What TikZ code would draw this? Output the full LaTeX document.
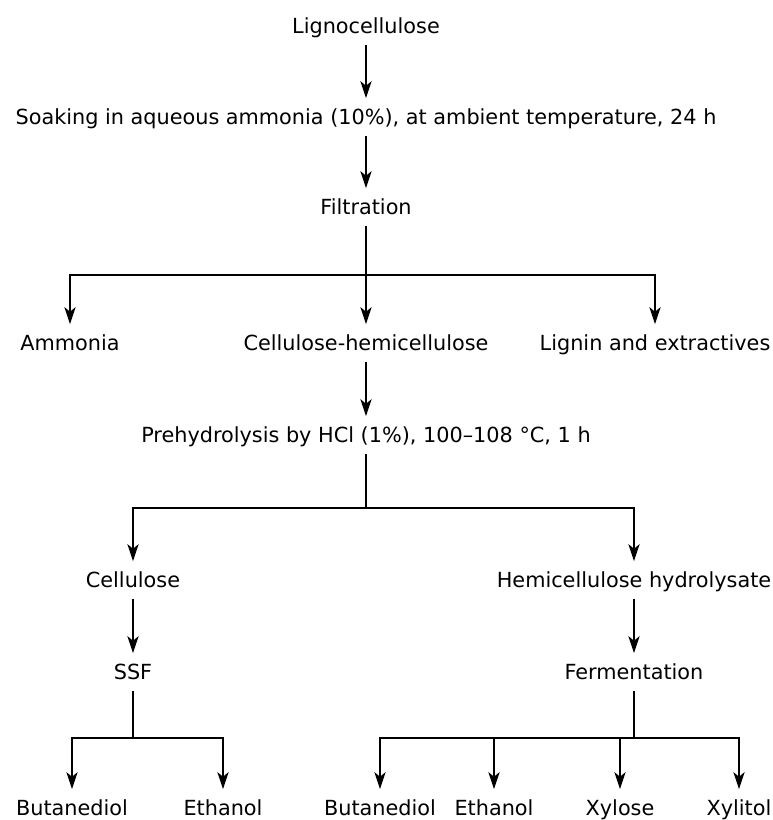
\documentclass[tikz,border=0pt]{standalone}
\usepackage{fontspec}
\setmainfont{DejaVu Sans}
\usetikzlibrary{arrows.meta}

\begin{document}
\begin{tikzpicture}[x=1pt, y=-1pt,
    lbl/.style={font=\fontsize{20.8}{24}\selectfont, text height=15pt, text depth=0pt, inner xsep=0pt, inner ysep=11pt},
    link/.style={line width=2.6pt},
    flow/.style={link, -{Stealth[length=17pt, width=11pt, inset=4.5pt]}}]
    \useasboundingbox (0,0) rectangle (772,820);

    % Pretreatment
    \node[lbl] (ligno) at (366,26) {Lignocellulose};
    \node[lbl] (soak) at (366,117) {Soaking in aqueous ammonia (10\%), at ambient temperature, 24 h};
    \node[lbl] (filt) at (366,207) {Filtration};
    \draw[flow] (ligno) -- (soak);
    \draw[flow] (soak) -- (filt);

    % Filtration products
    \coordinate (j1) at (366,275);
    \node[lbl] (amm) at (70,343) {Ammonia};
    \node[lbl] (cellhemi) at (366,343) {Cellulose-hemicellulose};
    \node[lbl] (lignin) at (655,343) {Lignin and extractives};
    \draw[flow] (filt) -- (cellhemi);
    \draw[flow] (j1) -| (amm);
    \draw[flow] (j1) -| (lignin);

    % Prehydrolysis
    \node[lbl] (prehyd) at (366,435) {Prehydrolysis by HCl (1\%), 100–108 °C, 1 h};
    \coordinate (j2) at (366,508);
    \node[lbl] (cell) at (133,580) {Cellulose};
    \node[lbl] (hemi) at (634,580) {Hemicellulose hydrolysate};
    \draw[flow] (cellhemi) -- (prehyd);
    \draw[link] (prehyd) -- (j2);
    \draw[flow] (j2) -| (cell);
    \draw[flow] (j2) -| (hemi);

    % Cellulose branch
    \node[lbl] (ssf) at (133,672) {SSF};
    \coordinate (j3) at (133,738);
    \node[lbl] (bd1) at (72,808) {Butanediol};
    \node[lbl] (eth1) at (223,808) {Ethanol};
    \draw[flow] (cell) -- (ssf);
    \draw[link] (ssf) -- (j3);
    \draw[flow] (j3) -| (bd1);
    \draw[flow] (j3) -| (eth1);

    % Hemicellulose branch
    \node[lbl] (ferm) at (634,672) {Fermentation};
    \coordinate (j4) at (634,738);
    \node[lbl] (bd2) at (380,808) {Butanediol};
    \node[lbl] (eth2) at (494,808) {Ethanol};
    \node[lbl] (xyl) at (620,808) {Xylose};
    \node[lbl] (xyt) at (739,808) {Xylitol};
    \draw[flow] (hemi) -- (ferm);
    \draw[link] (ferm) -- (j4);
    \draw[flow] (j4) -| (bd2);
    \draw[flow] (j4) -| (eth2);
    \draw[flow] (j4) -| (xyl);
    \draw[flow] (j4) -| (xyt);
\end{tikzpicture}
\end{document}
